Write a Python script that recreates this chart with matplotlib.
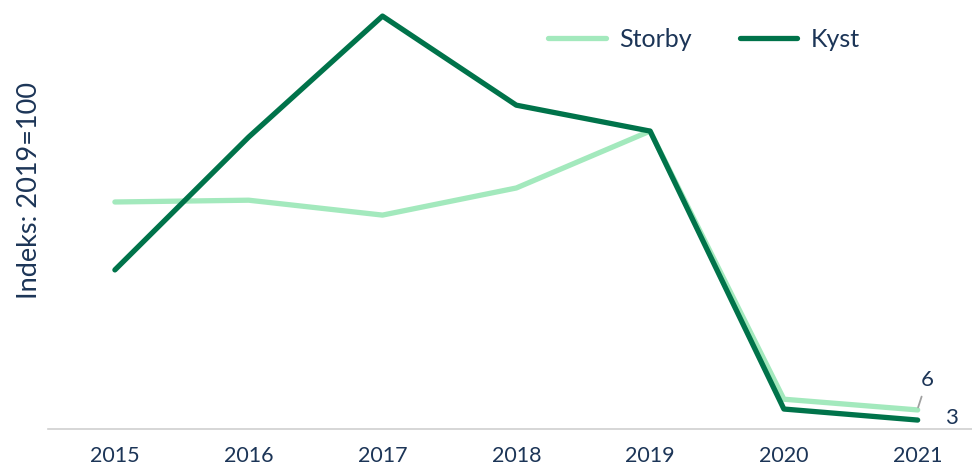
import matplotlib.pyplot as plt

plt.rcParams['font.family'] = ['Lato', 'DejaVu Sans']

# Data (index, 2019 = 100)
years = ['2015', '2016', '2017', '2018', '2019', '2020', '2021']
storby = [76.2, 76.8, 71.8, 80.9, 100, 10.0, 6.4]
kyst = [53.4, 98.0, 138.6, 108.7, 100, 6.7, 3.0]

text_color = '#1c3557'
storby_color = '#a3e9bd'
kyst_color = '#00734a'

fig = plt.figure(figsize=(9.72, 4.71), dpi=100)
ax = fig.add_axes([48 / 972, 42 / 471, 1 - 48 / 972, 429 / 471])

x = range(len(years))
ax.plot(x, storby, color=storby_color, lw=3.8, label='Storby', solid_capstyle='round')
ax.plot(x, kyst, color=kyst_color, lw=3.8, label='Kyst', solid_capstyle='round')

ax.set_xlim(-0.5, 6.406)
ax.set_ylim(0, 144)
ax.set_xticks(list(x))
ax.set_xticklabels(years, fontsize=15.5, color=text_color)
ax.tick_params(axis='x', length=0, pad=12)
ax.set_yticks([])
ax.set_ylabel('Indeks: 2019=100', fontsize=19.5, color=text_color)
ax.yaxis.set_label_coords(-0.006, 0.555)

for side in ['top', 'right', 'left']:
    ax.spines[side].set_visible(False)
ax.spines['bottom'].set_color('#d0d0d0')
ax.spines['bottom'].set_linewidth(1.2)

# end labels
ax.annotate(f'{storby[-1]:.0f}', xy=(6, storby[-1] + 0.4), xytext=(6.07, 16.5),
            fontsize=16, color=text_color, ha='center', va='center',
            arrowprops=dict(arrowstyle='-', color='#a0a0a0', lw=1.3, shrinkA=3, shrinkB=1))
ax.text(6.25, kyst[-1] + 0.8, f'{kyst[-1]:.0f}', fontsize=16, color=text_color,
        ha='center', va='center')

leg = ax.legend(loc='center', bbox_to_anchor=(0.71, 0.909), ncol=2, frameon=False,
                fontsize=18, handlelength=2.3, columnspacing=1.9, handletextpad=0.55)
for t in leg.get_texts():
    t.set_color(text_color)

fig.savefig('out.png', dpi=100)
